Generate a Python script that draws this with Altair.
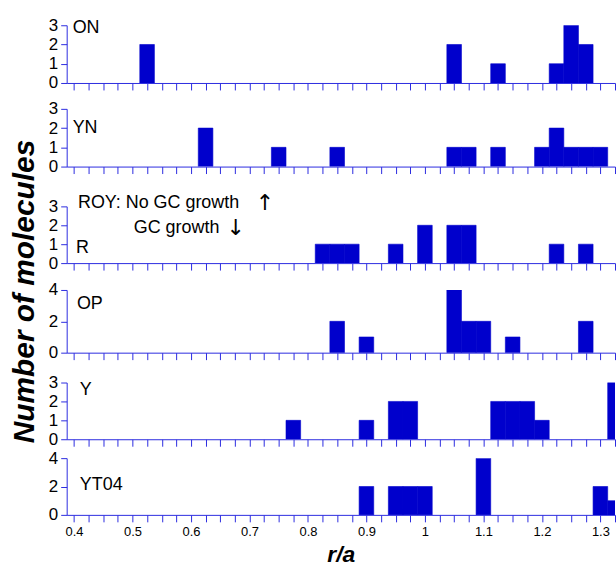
import altair as alt
import pandas as pd

# ---- data (bin centres in r/a, bin width 0.025; counts) ----
on_x = [0.525, 1.05, 1.125, 1.225, 1.25, 1.275]
on_n = [2, 2, 1, 1, 3, 2]
yn_x = [0.625, 0.75, 0.85, 1.05, 1.075, 1.125, 1.2, 1.225, 1.25, 1.275, 1.3]
yn_n = [2, 1, 1, 1, 1, 1, 1, 2, 1, 1, 1]
r_x = [0.825, 0.85, 0.875, 0.95, 1.0, 1.05, 1.075, 1.225, 1.275]
r_n = [1, 1, 1, 1, 2, 2, 2, 1, 1]
op_x = [0.85, 0.9, 1.05, 1.075, 1.1, 1.15, 1.275]
op_n = [2, 1, 4, 2, 2, 1, 2]
y_x = [0.775, 0.9, 0.95, 0.975, 1.125, 1.15, 1.175, 1.2, 1.325]
y_n = [1, 1, 2, 2, 2, 2, 2, 1, 3]
yt_x = [0.9, 0.95, 0.975, 1.0, 1.1, 1.3, 1.325]
yt_n = [2, 2, 2, 2, 4, 2, 1]

panel_names = ["ON", "YN", "R", "OP", "Y", "YT04"]
panel_x = [on_x, yn_x, r_x, op_x, y_x, yt_x]
panel_n = [on_n, yn_n, r_n, op_n, y_n, yt_n]
y_max = [3, 3, 3, 4, 3, 4]
y_ticks = [[0, 1, 2, 3], [0, 1, 2, 3], [0, 1, 2, 3], [0, 2, 4], [0, 1, 2, 3], [0, 2, 4]]
x_ticks = [round(0.4 + 0.025 * i, 3) for i in range(38)]

annot_text = ["ROY: No GC growth", "GC growth"]
arrow_text = ["\u2191", "\u2193"]

# ---- style ----
FONT = "Liberation Sans"
BLUE = "#0000CC"
AXBLUE = "#2B2BE0"
HALF = 0.0125
X_DOMAIN = [0.3875, 1.325]
PLOT_W = 551
heights = [58, 58, 57, 63, 57, 57]
gaps = [26, 40, 27, 30, 19]
label_pos = [(0.3977, 2.85), (0.3977, 2.02), (0.4033, 0.79), (0.405, 3.13), (0.41, 2.58), (0.41, 2.1)]
annot_pos = [(0.4068, 3.17), (0.5022, 1.84)]
arrow_pos = [(0.7265, 3.17), (0.6765, 1.84)]


def panel(i):
    df = pd.DataFrame({"c": panel_x[i], "n": panel_n[i]})
    last = i == len(panel_names) - 1
    xaxis = alt.Axis(
        values=x_ticks, grid=False, tickSize=7, tickColor=AXBLUE, domainColor=AXBLUE,
        labels=last, labelFont=FONT, labelFontSize=13, labelColor="black", labelPadding=4,
        labelOverlap=False,
        labelExpr="abs(datum.value*10 - round(datum.value*10)) < 0.001 ? format(datum.value, '~g') : ''",
        title="r/a" if last else None, titleFont=FONT, titleFontSize=23,
        titleFontStyle="italic", titleFontWeight="bold", titlePadding=5,
    )
    yaxis = alt.Axis(
        values=y_ticks[i], grid=False, tickSize=6, tickColor=AXBLUE, domainColor=AXBLUE,
        labelFont=FONT, labelFontSize=17, labelColor="black", labelPadding=3, title=None,
        labelOverlap=False, labelBound=False, labelFlush=False,
    )
    xs = alt.Scale(domain=X_DOMAIN, nice=False, zero=False)
    ys = alt.Scale(domain=[0, y_max[i]], nice=False)
    bars = alt.Chart(df).transform_calculate(
        x0=f"datum.c - {HALF}", x1=f"datum.c + {HALF}"
    ).mark_rect(color=BLUE, stroke=BLUE, strokeWidth=0.6, clip=True).encode(
        x=alt.X("x0:Q", scale=xs, axis=xaxis, title="r/a" if last else None),
        x2="x1:Q",
        y=alt.Y("n:Q", scale=ys, axis=yaxis, title=None),
        y2=alt.datum(0),
    )

    def txt(xv, yv, tv, **kw):
        return alt.Chart(pd.DataFrame({"x": xv, "y": yv, "t": tv})).mark_text(
            baseline="middle", color="black", **kw
        ).encode(
            x=alt.X("x:Q", scale=xs, axis=xaxis, title="r/a" if last else None),
            y=alt.Y("y:Q", scale=ys, axis=yaxis, title=None),
            text="t:N",
        )

    lx, ly = label_pos[i]
    layers = [bars, txt([lx], [ly], [panel_names[i]], align="left", font=FONT, fontSize=18)]
    if panel_names[i] == "R":
        layers.append(txt([p[0] for p in annot_pos], [p[1] for p in annot_pos], annot_text,
                          align="left", font=FONT, fontSize=18))
        layers.append(txt([p[0] for p in arrow_pos], [p[1] for p in arrow_pos], arrow_text,
                          align="center", font="DejaVu Sans", fontSize=22))
    return alt.layer(*layers).properties(width=PLOT_W, height=heights[i])


charts = [panel(i) for i in range(6)]
inner = charts[-1]
for i in range(4, -1, -1):
    inner = alt.vconcat(charts[i], inner, spacing=gaps[i], bounds="flush")

chart = inner.properties(
    title=alt.TitleParams(
        text="Number of molecules", orient="left", anchor="middle", fontSize=30,
        font=FONT, fontStyle="italic", fontWeight="bold", offset=8, color="black",
    ),
    padding={"left": 10, "top": 15, "right": 0, "bottom": 0},
).configure_view(stroke=None)

chart.save("out.html", embed_options={"renderer": "svg", "actions": False})
